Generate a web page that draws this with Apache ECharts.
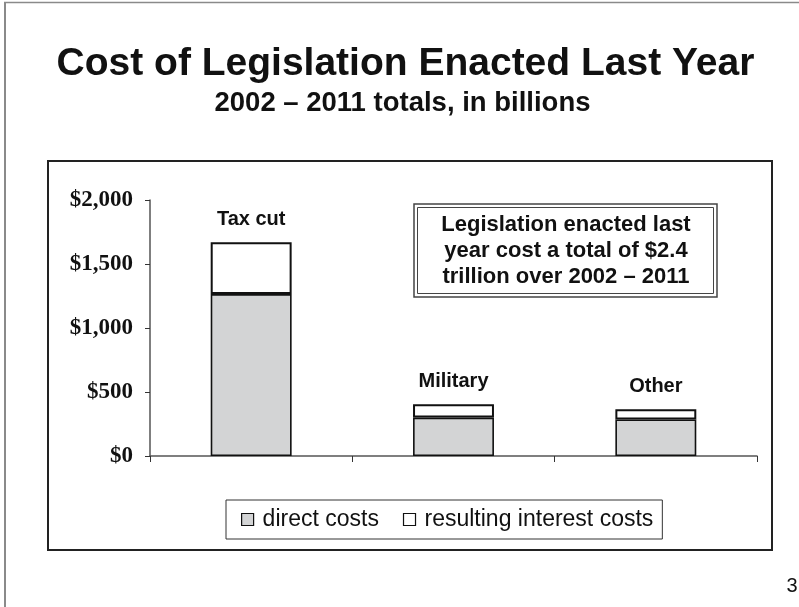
<!DOCTYPE html>
<html>
<head>
<meta charset="utf-8">
<title>Cost of Legislation Enacted Last Year</title>
<script src="https://cdn.jsdelivr.net/npm/echarts@6/dist/echarts.min.js"></script>
<style>
  html, body { margin: 0; padding: 0; background: #ffffff; }
  #chart { width: 799px; height: 607px; }
</style>
</head>
<body>
<div id="chart"></div>
<script>
// Ten-year (2002-2011) cost of legislation, in billions of dollars
const categories = ['Tax cut', 'Military', 'Other'];
const directCosts = [1265, 300, 285];
const interestCosts = [405, 104, 80];
const yTicks = [0, 500, 1000, 1500, 2000];

const seriesNames = ['direct costs', 'resulting interest costs'];
const titleText = 'Cost of Legislation Enacted Last Year';
const subtitleText = '2002 \u2013 2011 totals, in billions';
const noteLines = [
  'Legislation enacted last',
  'year cost a total of $2.4',
  'trillion over 2002 \u2013 2011'
];
const pageNumber = '3';

const SANS = '"Liberation Sans", Arial, Helvetica, sans-serif';
const SERIF = '"Liberation Serif", "Times New Roman", serif';
const INK = '#111111';

const chart = echarts.init(document.getElementById('chart'), null, { renderer: 'canvas' });

chart.setOption({
  backgroundColor: '#ffffff',
  animation: false,
  grid: { left: 150, top: 200, right: 42, bottom: 151, containLabel: false },
  xAxis: {
    type: 'category',
    data: categories,
    boundaryGap: true,
    axisLine: { show: true, lineStyle: { color: '#555', width: 1.5 } },
    axisTick: { show: true, interval: 0, alignWithLabel: false, length: 6, lineStyle: { color: '#333', width: 1 } },
    axisLabel: { show: false },
    splitLine: { show: false }
  },
  yAxis: {
    type: 'value',
    min: yTicks[0],
    max: yTicks[yTicks.length - 1],
    interval: yTicks[1] - yTicks[0],
    axisLine: { show: true, lineStyle: { color: '#555', width: 1.5 } },
    axisTick: { show: true, inside: false, length: 5, lineStyle: { color: '#333', width: 1 } },
    splitLine: { show: false },
    axisLabel: {
      margin: 17,
      color: INK,
      fontFamily: SERIF,
      fontWeight: 'bold',
      fontSize: 23,
      formatter: v => '$' + v.toLocaleString('en-US')
    }
  },
  legend: {
    data: seriesNames,
    left: 226,
    top: 500,
    orient: 'horizontal',
    padding: [8, 9, 8, 15],
    itemGap: 24,
    itemWidth: 12,
    itemHeight: 12,
    icon: 'rect',
    borderColor: '#333',
    borderWidth: 1,
    itemStyle: { borderColor: INK, borderWidth: 1.2 },
    textStyle: {
      color: INK,
      fontFamily: SANS,
      fontSize: 23,
      padding: [0, 0, 0, 4]
    }
  },
  series: [
    {
      name: seriesNames[0],
      type: 'bar',
      stack: 'cost',
      barWidth: '40%',
      data: directCosts,
      itemStyle: { color: '#d3d4d5', borderColor: INK, borderWidth: 1.6 }
    },
    {
      name: seriesNames[1],
      type: 'bar',
      stack: 'cost',
      barWidth: '40%',
      data: interestCosts,
      itemStyle: { color: '#ffffff', borderColor: INK, borderWidth: 2 },
      label: {
        show: true,
        position: 'top',
        distance: 13,
        formatter: p => p.name,
        color: INK,
        fontFamily: SANS,
        fontWeight: 'bold',
        fontSize: 20
      }
    }
  ],
  graphic: [
    // page frame
    { type: 'line', shape: { x1: 4, y1: 2.5, x2: 799, y2: 2.5 }, style: { stroke: '#8a8a8a', lineWidth: 1.5 }, silent: true },
    { type: 'line', shape: { x1: 5, y1: 2, x2: 5, y2: 607 }, style: { stroke: '#8a8a8a', lineWidth: 2 }, silent: true },
    // chart frame
    { type: 'rect', shape: { x: 48, y: 161, width: 724, height: 389 }, style: { fill: null, stroke: '#222', lineWidth: 2 }, silent: true, z: -1 },
    // headline
    {
      type: 'text', x: 405.5, y: 64,
      style: { text: titleText, fill: INK, font: 'bold 39px ' + SANS, textAlign: 'center', textVerticalAlign: 'middle' }
    },
    {
      type: 'text', x: 402.5, y: 103,
      style: { text: subtitleText, fill: INK, font: 'bold 27.5px ' + SANS, textAlign: 'center', textVerticalAlign: 'middle' }
    },
    // note box
    { type: 'rect', shape: { x: 414, y: 204, width: 303, height: 93 }, style: { fill: '#ffffff', stroke: '#444', lineWidth: 1.5 }, silent: true },
    { type: 'rect', shape: { x: 417.5, y: 207.5, width: 296, height: 86 }, style: { fill: null, stroke: '#444', lineWidth: 1 }, silent: true },
    {
      type: 'text', x: 566, y: 251,
      style: {
        text: noteLines.join('\n'), fill: INK, font: 'bold 22px ' + SANS,
        lineHeight: 26, textAlign: 'center', textVerticalAlign: 'middle'
      }
    },
    // slide number
    {
      type: 'text', x: 792, y: 586,
      style: { text: pageNumber, fill: INK, font: '20px ' + SANS, textAlign: 'center', textVerticalAlign: 'middle' }
    }
  ]
});
</script>
</body>
</html>
